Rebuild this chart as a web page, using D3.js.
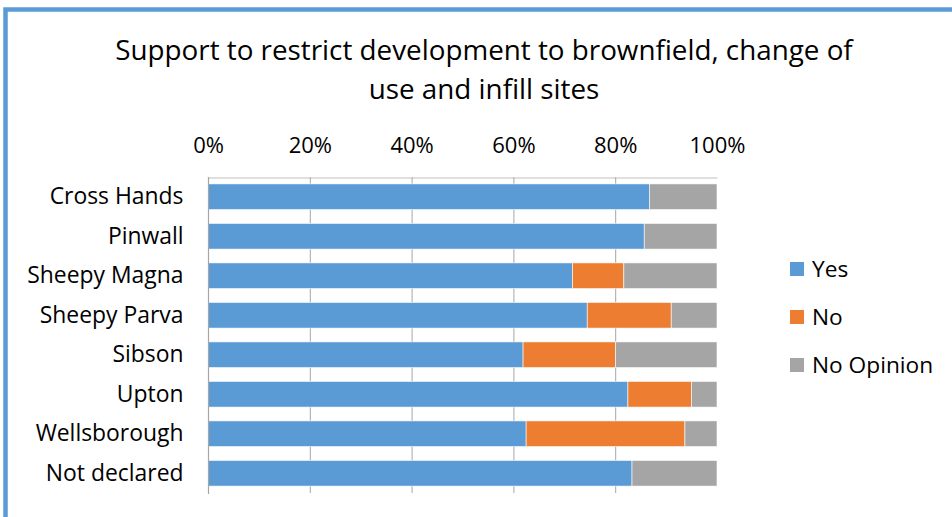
<!DOCTYPE html>
<html><head><meta charset="utf-8">
<script src="https://cdn.jsdelivr.net/npm/d3@7"></script>
<style>body{margin:0;background:#fff;}svg{display:block;font-family:"Open Sans",sans-serif;}</style>
</head><body><svg id="c" width="952" height="517"></svg>
<script>
const categories = ["Cross Hands","Pinwall","Sheepy Magna","Sheepy Parva","Sibson","Upton","Wellsborough","Not declared"];
const yesValues = [86.7, 85.7, 71.6, 74.5, 61.9, 82.5, 62.5, 83.3];
const noValues = [0, 0, 10.1, 16.5, 18.2, 12.5, 31.2, 0];
const noOpinionValues = [13.3, 14.3, 18.3, 9.0, 19.9, 5.0, 6.3, 16.7];
const seriesNames = ["Yes","No","No Opinion"];
const seriesColors = ["#5b9bd5","#ed7d31","#a5a5a5"];
const tickValues = [0,20,40,60,80,100];
const titleLines = ["Support to restrict development to brownfield, change of","use and infill sites"];

const svg = d3.select("#c");
svg.append("rect").attr("x",5.5).attr("y",9.5).attr("width",1000).attr("height",600)
  .attr("fill","none").attr("stroke","#5b9bd5").attr("stroke-width",4.5);

const x = d3.scaleLinear().domain([0,100]).range([208,717]);
const y = d3.scaleBand().domain(categories).range([177,493]).paddingInner(0.35).paddingOuter(0.175);

// title
svg.append("g").selectAll("text").data(titleLines).join("text")
  .attr("x",484).attr("y",(d,i)=>60+i*39).attr("text-anchor","middle")
  .attr("font-size",27.8).attr("fill","#000").text(d=>d);

// gridlines
svg.append("g").selectAll("line").data(tickValues.filter(t=>t>0&&t<100)).join("line")
  .attr("x1",d=>x(d)+0.5).attr("x2",d=>x(d)+0.5).attr("y1",177).attr("y2",493)
  .attr("stroke","#a6a6a6").attr("stroke-width",1);

// top axis
const xAxis = d3.axisTop(x).tickValues(tickValues).tickFormat(d=>d+"%").tickSize(0).tickPadding(0);
const gx = svg.append("g").attr("transform","translate(0,177.5)").call(xAxis);
gx.select(".domain").attr("stroke","#bfbfbf").attr("stroke-width",1);
gx.selectAll("text").attr("y",-25).attr("font-size",22).attr("fill","#000").attr("font-family","Open Sans");

// stacked bars
const rows = categories.map((c,i)=>({cat:c, Yes:yesValues[i], No:noValues[i], "No Opinion":noOpinionValues[i]}));
const stack = d3.stack().keys(seriesNames)(rows);
svg.append("g").selectAll("g").data(stack).join("g")
  .attr("fill",(d,i)=>seriesColors[i])
  .selectAll("rect").data(d=>d).join("rect")
  .attr("x",d=>x(d[0])).attr("width",d=>Math.max(0,x(d[1])-x(d[0])))
  .attr("y",d=>y(d.data.cat)).attr("height",y.bandwidth())
  .attr("stroke","#ffffff").attr("stroke-width",d=>(d[1]-d[0])>0?0.6:0);

// left axis
const yAxis = d3.axisLeft(y).tickSize(0).tickPadding(25);
const gy = svg.append("g").attr("transform","translate(208.5,0)").call(yAxis);
gy.select(".domain").remove();
gy.selectAll("text").attr("font-size",22.9).attr("fill","#000").attr("font-family","Open Sans");
svg.append("line").attr("x1",208.5).attr("x2",208.5).attr("y1",177).attr("y2",494)
  .attr("stroke","#a6a6a6").attr("stroke-width",1.2);

// legend
const lg = svg.append("g").selectAll("g").data(seriesNames).join("g")
  .attr("transform",(d,i)=>`translate(790,${262+i*48})`);
lg.append("rect").attr("width",14).attr("height",14).attr("fill",(d,i)=>seriesColors[i]);
lg.append("text").attr("x",22).attr("y",15).attr("font-size",22.7).attr("fill","#000").text(d=>d);
</script></body></html>
